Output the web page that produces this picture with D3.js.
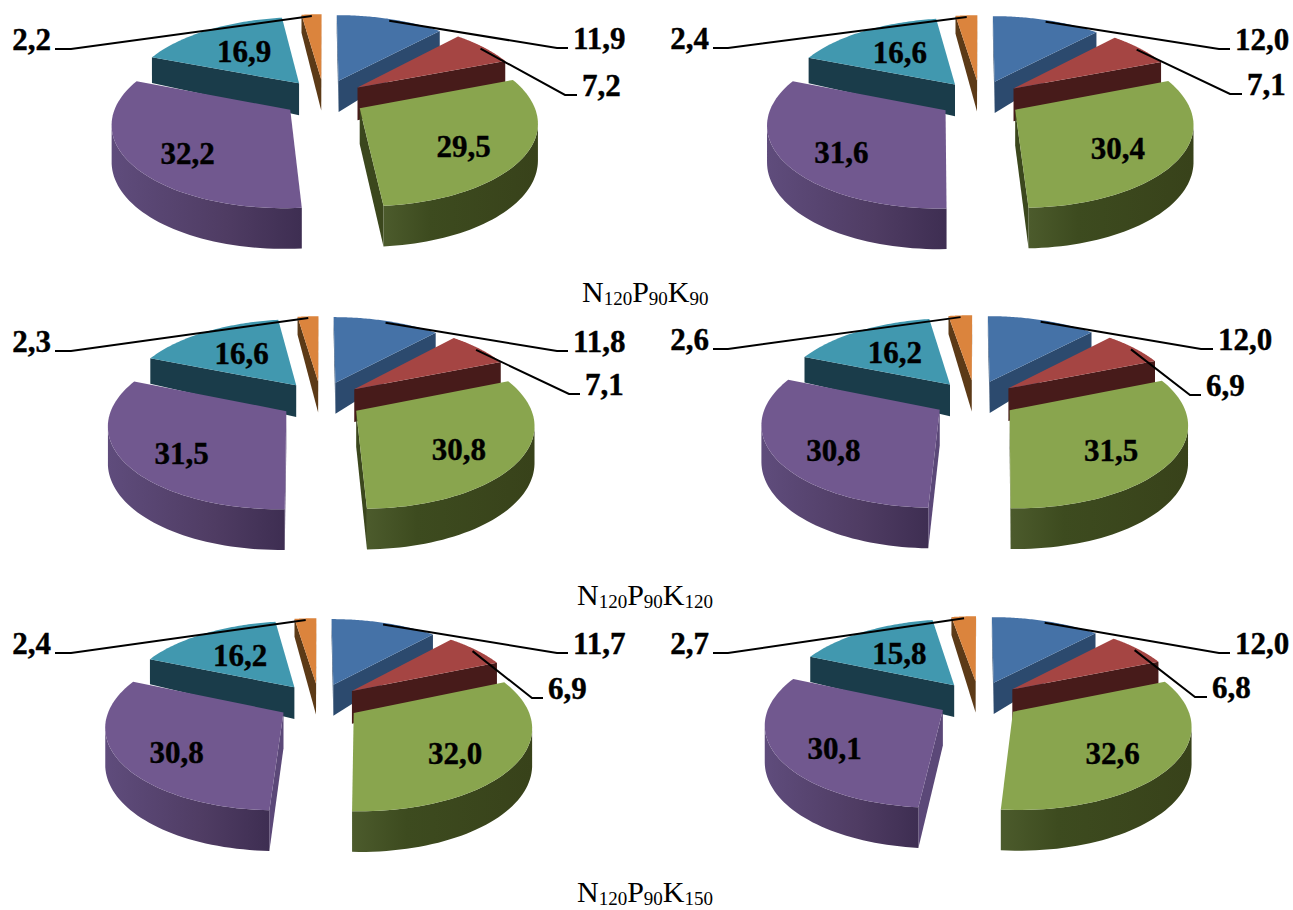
<!DOCTYPE html>
<html>
<head>
<meta charset="utf-8">
<script src="https://cdn.jsdelivr.net/npm/d3@7"></script>
<style>
html, body { margin: 0; padding: 0; background: #fff; }
text { font-family: "Liberation Serif", serif; fill: #000; }
.value { font-size: 31px; font-weight: bold; stroke: #000; stroke-width: 0.4px; }
.caption { font-size: 30px; }
.caption .sub { font-size: 19px; }
</style>
</head>
<body>
<div id="chart"></div>
<script>
// slice order is the same in every pie, clockwise from 12 o'clock
let sliceNames = ['blue', 'red', 'green', 'purple', 'teal', 'orange'];
let k90Left = [11.9, 7.2, 29.5, 32.2, 16.9, 2.2];
let k90Right = [12.0, 7.1, 30.4, 31.6, 16.6, 2.4];
let k120Left = [11.8, 7.1, 30.8, 31.5, 16.6, 2.3];
let k120Right = [12.0, 6.9, 31.5, 30.8, 16.2, 2.6];
let k150Left = [11.7, 6.9, 32.0, 30.8, 16.2, 2.4];
let k150Right = [12.0, 6.8, 32.6, 30.1, 15.8, 2.7];
let captionDoses = [90, 120, 150];

let width = 1293,
    height = 910,
    radiusX = 172,
    tilt = 80,
    perspective = 0.148,
    explode = 0.24;

let topColors = {blue: '#4572a7', red: '#a54543', green: '#89a54e', purple: '#71588f', teal: '#4198af', orange: '#db843d'};
let wallColors = {blue: '#2c4a6e', red: '#471b1a', green: '#3b471d', purple: '#5b4878', teal: '#1a3c4a', orange: '#5c3a17'};
// labels drawn inside a slice sit at this fraction of the radius, baseline pushed down by the shift
let labelRadius = {green: 0.65, purple: 0.67, teal: 0.58};
let labelShift = {green: 18, purple: 19, teal: 11};

// knots: [far end of the horizontal stub, near end, y] for the three outside labels
let pieLayouts = [
    {values: k90Left, cx: 324, cy: 98, blue: [568, 557, 48], red: [577, 565, 95], orange: [55, 71, 49]},
    {values: k90Right, cx: 980, cy: 99, blue: [1230, 1219, 49], red: [1242, 1230, 94], orange: [713, 728, 48]},
    {values: k120Left, cx: 321, cy: 400, blue: [568, 557, 351], red: [580, 569, 394], orange: [55, 71, 351]},
    {values: k120Right, cx: 975, cy: 399, blue: [1213, 1201, 349], red: [1201, 1190, 395], orange: [713, 728, 349]},
    {values: k150Left, cx: 319, cy: 702, blue: [568, 557, 653], red: [543, 532, 698], orange: [55, 71, 653]},
    {values: k150Right, cx: 979, cy: 700, blue: [1230, 1219, 653], red: [1207, 1195, 697], orange: [713, 728, 653]}
];
let captionSpots = [[582, 302], [577, 605], [577, 902]];

let format = d3.formatLocale({decimal: ',', thousands: ' ', grouping: [3], currency: ['', '']}).format('.1f');
let pieLayout = d3.pie().sort(null).value(d => d.value);
let line = d3.line();

let svg = d3.select('#chart').append('svg')
    .attr('width', width)
    .attr('height', height);

let defs = svg.append('defs');
addGradient('purpleWall', [[0, '#5f4c7c'], [0.6, '#4f3c63'], [1, '#3e2e52']]);
addGradient('greenWall', [[0, '#4c5b2c'], [0.3, '#3d4b1f'], [1, '#38421a']]);

function addGradient(id, stops) {
    defs.append('linearGradient')
        .attr('id', id)
        .selectAll('stop')
        .data(stops)
        .join('stop')
        .attr('offset', d => d[0])
        .attr('stop-color', d => d[1]);
}

// plane coordinates (x right, z away from the viewer) to screen
function project(pie, x, z) {
    let s = 1 / (1 + perspective * z);
    return [pie.cx + radiusX * x * s, pie.cy - tilt * z * s];
}

function depthAt(z) {
    return z > 0 ? 35 - 17 * Math.min(z, 1) : 35 - 5 * z;
}

// point of an exploded slice at angle a, r of the radius out from its apex
function slicePoint(pie, slice, a, r) {
    let mid = (slice.startAngle + slice.endAngle) / 2,
        x = explode * Math.sin(mid) + r * Math.sin(a),
        z = explode * Math.cos(mid) + r * Math.cos(a);
    return {top: project(pie, x, z), z: z};
}

function lower(p) {
    return [p.top[0], p.top[1] + depthAt(p.z)];
}

function drawSlice(g, pie, slice) {
    let name = slice.data.name,
        steps = d3.range(0, 61).map(i => slice.startAngle + (slice.endAngle - slice.startAngle) * i / 60),
        rim = steps.map(a => slicePoint(pie, slice, a, 1)),
        apex = slicePoint(pie, slice, slice.startAngle, 0);

    // radial walls, only the one turned to the viewer
    let startWall = [apex.top, rim[0].top, lower(rim[0]), lower(apex)],
        endWall = [apex.top, rim[60].top, lower(rim[60]), lower(apex)];
    if (d3.polygonArea(startWall) > 0) {
        g.append('path').attr('d', line(startWall) + 'Z').attr('fill', wallColors[name]);
    }
    if (d3.polygonArea(endWall) < 0) {
        g.append('path').attr('d', line(endWall) + 'Z').attr('fill', wallColors[name]);
    }

    // curved wall, only the part of the rim facing forward
    let front = rim.filter((p, i) => {
        let next = rim[Math.min(i + 1, 60)], prev = rim[Math.max(i - 1, 0)];
        return next.top[0] < prev.top[0];
    });
    if (front.length > 1) {
        let outline = front.map(p => p.top).concat(front.map(lower).reverse());
        g.append('path')
            .attr('d', line(outline) + 'Z')
            .attr('fill', name === 'purple' ? 'url(#purpleWall)' : name === 'green' ? 'url(#greenWall)' : wallColors[name]);
    }

    let top = [apex.top].concat(rim.map(p => p.top));
    g.append('path')
        .attr('d', line(top) + 'Z')
        .attr('fill', topColors[name]);
}

function drawLeader(g, pie, slice, knot, side) {
    let mid = (slice.startAngle + slice.endAngle) / 2,
        start = slicePoint(pie, slice, mid, 0.97).top;
    g.append('path')
        .attr('d', line([start, [knot[1], knot[2]], [knot[0], knot[2]]]))
        .attr('fill', 'none')
        .attr('stroke', '#000')
        .attr('stroke-width', 2);
    g.append('text')
        .attr('class', 'value')
        .attr('x', side === 'right' ? knot[0] + 5 : knot[0] - 4)
        .attr('y', knot[2] + 1)
        .attr('text-anchor', side === 'right' ? 'start' : 'end')
        .text(format(slice.data.value));
}

pieLayouts.forEach(pie => {
    let slices = pieLayout(pie.values.map((v, i) => ({name: sliceNames[i], value: v}))),
        g = svg.append('g');

    // back to front so nearer slices cover farther ones
    slices.slice()
        .sort((a, b) => Math.cos((b.startAngle + b.endAngle) / 2) - Math.cos((a.startAngle + a.endAngle) / 2))
        .forEach(slice => drawSlice(g.append('g').attr('class', 'slice'), pie, slice));

    slices.forEach(slice => {
        let name = slice.data.name;
        if (labelRadius[name]) {
            let mid = (slice.startAngle + slice.endAngle) / 2,
                spot = slicePoint(pie, slice, mid, labelRadius[name]).top;
            g.append('text')
                .attr('class', 'value')
                .attr('x', spot[0])
                .attr('y', spot[1] + labelShift[name])
                .attr('text-anchor', 'middle')
                .text(format(slice.data.value));
        } else {
            drawLeader(g, pie, slice, pie[name], name === 'orange' ? 'left' : 'right');
        }
    });
});

captionDoses.forEach((dose, i) => {
    let text = svg.append('text')
        .attr('class', 'caption')
        .attr('x', captionSpots[i][0])
        .attr('y', captionSpots[i][1]);
    text.append('tspan').text('N');
    text.append('tspan').attr('class', 'sub').attr('dy', 3).text('120');
    text.append('tspan').attr('dy', -3).text('P');
    text.append('tspan').attr('class', 'sub').attr('dy', 3).text('90');
    text.append('tspan').attr('dy', -3).text('K');
    text.append('tspan').attr('class', 'sub').attr('dy', 3).text(dose);
});
</script>
</body>
</html>
